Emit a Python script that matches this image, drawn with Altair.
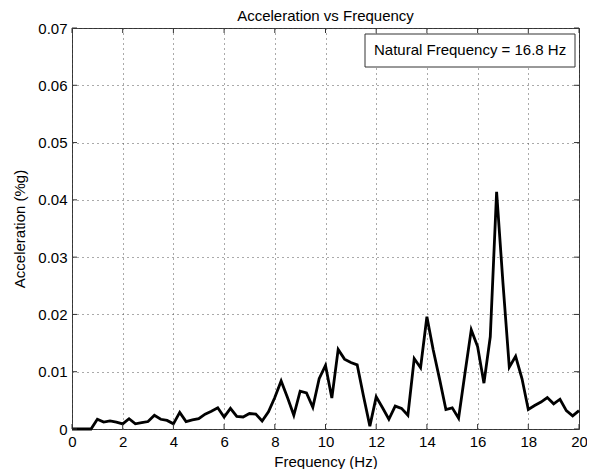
import altair as alt
import pandas as pd

# ---- data ----
freq = [0.0, 0.25, 0.5, 0.75, 1.0, 1.25, 1.5, 1.75, 2.0, 2.25, 2.5, 2.75,
        3.0, 3.25, 3.5, 3.75, 4.0, 4.25, 4.5, 4.75, 5.0, 5.25, 5.5, 5.75,
        6.0, 6.25, 6.5, 6.75, 7.0, 7.25, 7.5, 7.75, 8.0, 8.25, 8.5, 8.75,
        9.0, 9.25, 9.5, 9.75, 10.0, 10.25, 10.5, 10.75, 11.0, 11.25, 11.5, 11.75,
        12.0, 12.25, 12.5, 12.75, 13.0, 13.25, 13.5, 13.75, 14.0, 14.25, 14.5, 14.75,
        15.0, 15.25, 15.5, 15.75, 16.0, 16.25, 16.5, 16.75, 17.0, 17.25, 17.5, 17.75,
        18.0, 18.25, 18.5, 18.75, 19.0, 19.25, 19.5, 19.75, 20.0]
accel = [0.0, 0.0, 0.0, 0.0, 0.0017, 0.0012, 0.0014, 0.0012, 0.0009, 0.0018, 0.0009, 0.0011,
         0.0013, 0.0024, 0.0017, 0.0015, 0.0009, 0.0029, 0.0013, 0.0016, 0.0018, 0.0026, 0.0031, 0.0037,
         0.0021, 0.0036, 0.0022, 0.0021, 0.0027, 0.0026, 0.0014, 0.0030, 0.0055, 0.0084, 0.0055, 0.0024,
         0.0066, 0.0063, 0.0038, 0.0088, 0.0111, 0.0054, 0.0139, 0.0122, 0.0116, 0.0112, 0.0057, 0.0005,
         0.0056, 0.0037, 0.0017, 0.0040, 0.0036, 0.0024, 0.0123, 0.0107, 0.0196, 0.0138, 0.0087, 0.0034,
         0.0037, 0.0019, 0.0097, 0.0173, 0.0144, 0.0080, 0.0161, 0.0414, 0.0255, 0.0108, 0.0127, 0.0088,
         0.0034, 0.0041, 0.0047, 0.0055, 0.0044, 0.0052, 0.0032, 0.0023, 0.0032]
x_ticks = [0, 2, 4, 6, 8, 10, 12, 14, 16, 18, 20]
y_ticks = [0, 0.01, 0.02, 0.03, 0.04, 0.05, 0.06, 0.07]
title_text = "Acceleration vs Frequency"
x_title = "Frequency (Hz)"
y_title = "Acceleration (%g)"
note_text = ["Natural Frequency = 16.8 Hz"]

W, H = 507, 401
FONT = "Liberation Sans"
FS = 15

df = pd.DataFrame({"freq": freq, "accel": accel})
xt = pd.DataFrame({"t": x_ticks})
yt = pd.DataFrame({"t": y_ticks})
note = pd.DataFrame({"label": note_text})

xscale = alt.Scale(domain=[0, 20], nice=False, zero=False)
yscale = alt.Scale(domain=[0, 0.07], nice=False, zero=False)
xaxis = alt.Axis(values=x_ticks, format="d", grid=True, title=x_title, labelFlush=False)
yaxis = alt.Axis(values=y_ticks, grid=True, title=y_title, labelFlush=False,
                 labelExpr="datum.value == 0 ? '0' : format(datum.value, '.2f')")

line = alt.Chart(df).mark_line(color="black", strokeWidth=2.8).encode(
    x=alt.X("freq:Q", scale=xscale, axis=xaxis),
    y=alt.Y("accel:Q", scale=yscale, axis=yaxis),
)

tick_len = 5
xb = alt.Chart(xt).mark_rule(color="#333", strokeWidth=1).encode(
    x=alt.X("t:Q", scale=xscale, axis=xaxis), y=alt.value(H), y2=alt.value(H - tick_len))
xtop = alt.Chart(xt).mark_rule(color="#333", strokeWidth=1).encode(
    x=alt.X("t:Q", scale=xscale, axis=xaxis), y=alt.value(0), y2=alt.value(tick_len))
yl = alt.Chart(yt).mark_rule(color="#333", strokeWidth=1).encode(
    y=alt.Y("t:Q", scale=yscale, axis=yaxis), x=alt.value(0), x2=alt.value(tick_len))
yr = alt.Chart(yt).mark_rule(color="#333", strokeWidth=1).encode(
    y=alt.Y("t:Q", scale=yscale, axis=yaxis), x=alt.value(W), x2=alt.value(W - tick_len))

box = alt.Chart(note).mark_rect(fill="white", stroke="#333", strokeWidth=1).encode(
    x=alt.value(293), x2=alt.value(503), y=alt.value(6), y2=alt.value(39))
txt = alt.Chart(note).mark_text(align="left", baseline="middle", font=FONT,
                                fontSize=FS, color="black").encode(
    x=alt.value(302), y=alt.value(22), text="label:N")

chart = alt.layer(line, xb, xtop, yl, yr, box, txt).properties(
    width=W, height=H,
    title=alt.TitleParams(title_text, font=FONT, fontSize=FS, fontWeight="normal",
                          color="black", anchor="middle", offset=5, dy=8),
    autosize=alt.AutoSizeParams(type="none"),
    padding={"left": 64, "top": 20, "right": 8, "bottom": 40},
).configure_axis(
    labelFont=FONT, labelFontSize=FS, labelColor="black", labelPadding=5,
    titleFont=FONT, titleFontSize=FS, titleColor="black", titleFontWeight="normal",
    domain=False, ticks=False, tickSize=0,
    gridColor="#555", gridDash=[1, 4], gridWidth=1, gridOpacity=1,
).configure_axisY(titlePadding=10).configure_axisX(titlePadding=5).configure_view(
    stroke="#333", strokeWidth=1
)

chart.save("out.html", embed_options={"renderer": "svg", "actions": False})
